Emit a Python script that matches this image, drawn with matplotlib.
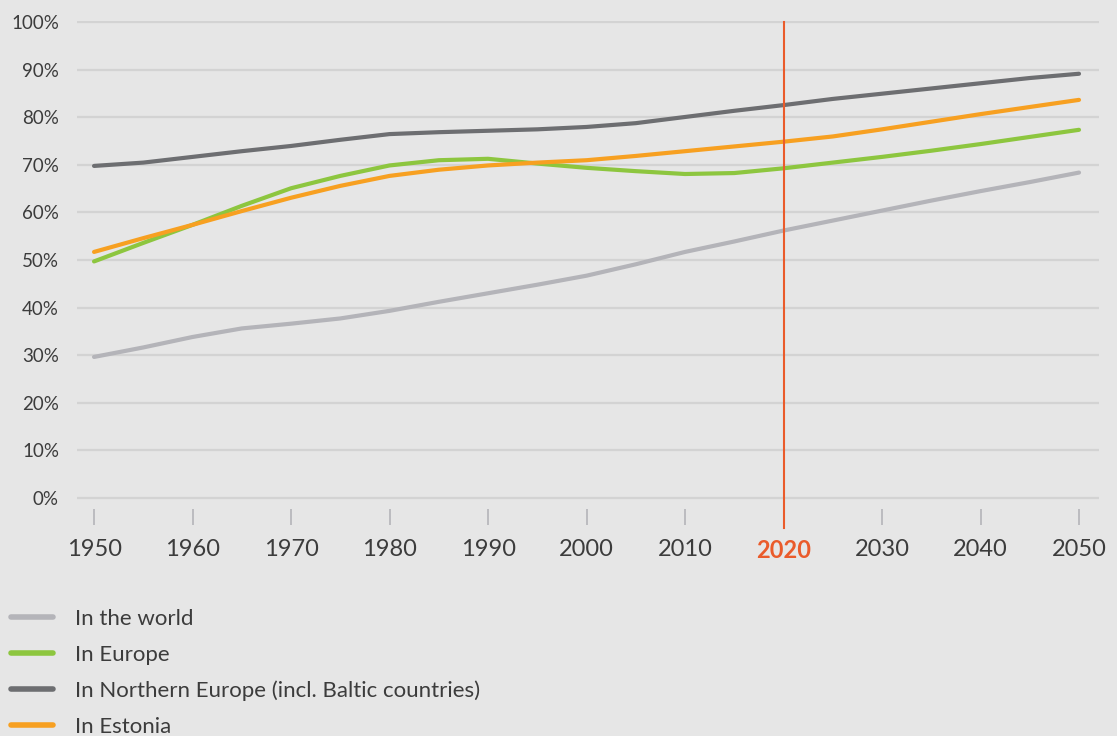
import matplotlib
matplotlib.use("Agg")
import matplotlib.pyplot as plt
from matplotlib.lines import Line2D

plt.rcParams['font.family'] = ['Lato', 'DejaVu Sans']

years = list(range(1950, 2051, 5))

world = [29.6, 31.6, 33.8, 35.6, 36.6, 37.7, 39.3, 41.2, 43.0, 44.8, 46.7,
         49.1, 51.7, 53.9, 56.2, 58.3, 60.4, 62.5, 64.5, 66.4, 68.4]
europe = [49.7, 53.6, 57.4, 61.4, 65.1, 67.7, 69.9, 71.0, 71.3, 70.3, 69.4,
          68.7, 68.1, 68.3, 69.3, 70.5, 71.7, 73.0, 74.4, 75.9, 77.4]
northern = [69.8, 70.5, 71.7, 72.9, 74.0, 75.3, 76.5, 76.9, 77.2, 77.5, 78.0,
            78.8, 80.1, 81.4, 82.6, 83.9, 85.0, 86.1, 87.2, 88.3, 89.2]
estonia = [51.7, 54.6, 57.4, 60.3, 63.1, 65.6, 67.7, 69.0, 69.9, 70.5, 71.0,
           71.9, 72.9, 73.9, 74.9, 76.0, 77.5, 79.1, 80.7, 82.2, 83.7]

labels = ["In the world", "In Europe",
          "In Northern Europe (incl. Baltic countries)", "In Estonia"]
colors = ["#b4b4b9", "#8dc63f", "#6d6e71", "#f7a021"]

tick_years = list(range(1950, 2051, 10))
pct_ticks = list(range(0, 101, 10))
now_year = 2020

bg = "#e6e6e6"
text_col = "#3c3c3c"
red = "#ea5b2b"

fig = plt.figure(figsize=(11.17, 7.36), dpi=100, facecolor=bg)
W, H = 1117.0, 736.0
# axes box in pixels: left 77, right 1099, bottom 509, top 21
ax = fig.add_axes([77 / W, (H - 509) / H, (1099 - 77) / W, (509 - 21) / H])
ax.set_facecolor(bg)

for y, c in zip([world, europe, northern, estonia], colors):
    ax.plot(years, y, color=c, lw=3.0, solid_capstyle='round', zorder=3)

ax.set_xlim(1948.27, 2052.03)
ax.set_ylim(-2.4, 100.3)

for v in pct_ticks:
    ax.axhline(v, color="#d3d3d3", lw=1.6, zorder=1)

ax.plot([now_year, now_year], [-6.3, 100], color=red, lw=1.5,
        clip_on=False, zorder=5)

for s in ax.spines.values():
    s.set_visible(False)

ax.set_yticks(pct_ticks)
ax.set_yticklabels([f"{v}%" for v in pct_ticks])
ax.tick_params(axis='y', length=0, pad=13, labelsize=13.5, labelcolor=text_col)

ax.set_xticks(tick_years)
ax.set_xticklabels([str(v) for v in tick_years])
ax.tick_params(axis='x', length=11.5, width=1.3, color="#b8b8bd", pad=10,
               labelsize=17, labelcolor=text_col)
for t in ax.get_xticklabels():
    if t.get_text() == str(now_year):
        t.set_color(red)
        t.set_fontweight('bold')

handles = [Line2D([0], [0], color=c, lw=4, solid_capstyle='round') for c in colors]
leg = fig.legend(handles, labels, loc='upper left', bbox_to_anchor=(-0.0045, 1 - 593 / H),
                 frameon=False, fontsize=16, handlelength=1.9, handletextpad=1.0,
                 labelspacing=0.72, borderaxespad=0.3)
for t in leg.get_texts():
    t.set_color(text_col)

plt.savefig("out.png", dpi=100, facecolor=bg)
